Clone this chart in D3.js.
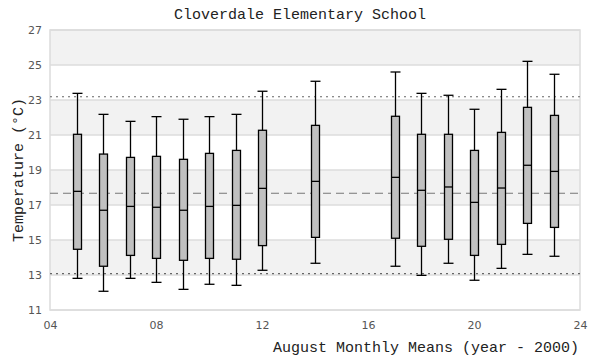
<!DOCTYPE html>
<html>
<head>
<meta charset="utf-8">
<script src="https://cdn.jsdelivr.net/npm/d3@7"></script>
<style>
  body { margin: 0; background: #fff; }
  svg { display: block; }
</style>
</head>
<body>
<svg id="chart" width="600" height="360"></svg>
<script>
// August monthly means, year - 2000
var years   = [5, 6, 7, 8, 9, 10, 11, 12, 14, 17, 18, 19, 20, 21, 22, 23];
var whiskLo = [12.81, 12.07, 12.81, 12.58, 12.18, 12.47, 12.41, 13.27, 13.67, 13.5, 12.98, 13.67, 12.7, 13.38, 14.18, 14.07];
var q1      = [14.47, 13.5, 14.12, 13.95, 13.84, 13.95, 13.9, 14.68, 15.15, 15.1, 14.64, 15.04, 14.12, 14.75, 15.95, 15.72];
var medians = [17.78, 16.7, 16.92, 16.87, 16.7, 16.92, 16.98, 17.95, 18.35, 18.58, 17.84, 18.03, 17.15, 17.97, 19.27, 18.92];
var q3      = [21.04, 19.91, 19.72, 19.78, 19.61, 19.95, 20.12, 21.27, 21.55, 22.07, 21.04, 21.04, 20.12, 21.15, 22.58, 22.12];
var whiskHi = [23.38, 22.18, 21.78, 22.05, 21.9, 22.05, 22.18, 23.5, 24.07, 24.6, 23.38, 23.27, 22.47, 23.61, 25.21, 24.47];

// reference lines: overall mean and the two dotted limits
var meanLine = 17.67;
var limitLines = [13.08, 23.19];

var xTicks = [4, 8, 12, 16, 20, 24];
var yTicks = [11, 13, 15, 17, 19, 21, 23, 25, 27];

var svg = d3.select("#chart");
var plotL = 50, plotR = 580, plotT = 30, plotB = 310;

var x = d3.scaleLinear().domain([4, 24]).range([plotL, plotR]);
var y = d3.scaleLinear().domain([11, 27]).range([plotB, plotT]);

// alternating bands, gray on the odd stripes
var bands = d3.pairs(yTicks).filter(function(d, i) { return i % 2 == 1; });
svg.append("g").selectAll("rect").data(bands).join("rect")
    .attr("x", plotL).attr("width", plotR - plotL)
    .attr("y", function(d) { return y(d[1]); })
    .attr("height", function(d) { return y(d[0]) - y(d[1]); })
    .attr("fill", "#f2f2f2");

// grid lines
svg.append("g").selectAll("line").data(yTicks).join("line")
    .attr("x1", plotL).attr("x2", plotR)
    .attr("y1", function(d) { return y(d); })
    .attr("y2", function(d) { return y(d); })
    .attr("stroke", "#dcdcdc").attr("stroke-width", 1.5);

svg.append("rect")
    .attr("x", plotL).attr("y", plotT)
    .attr("width", plotR - plotL).attr("height", plotB - plotT)
    .attr("fill", "none").attr("stroke", "#dcdcdc").attr("stroke-width", 1.5);

// axes (labels only)
var yAxis = svg.append("g").attr("transform", "translate(" + (plotL - 8) + ",0)")
    .call(d3.axisLeft(y).tickValues(yTicks).tickSize(0).tickPadding(0));
var xAxis = svg.append("g").attr("transform", "translate(0," + (plotB + 8) + ")")
    .call(d3.axisBottom(x).tickValues(xTicks).tickSize(0).tickPadding(3)
        .tickFormat(function(d) { return d3.format("02d")(d); }));
[yAxis, xAxis].forEach(function(a) {
    a.select(".domain").remove();
    a.selectAll("text").attr("fill", "#555").attr("font-size", 11)
        .attr("font-family", "DejaVu Sans, sans-serif");
});

// reference lines
svg.append("g").selectAll("line").data(limitLines).join("line")
    .attr("x1", plotL).attr("x2", plotR)
    .attr("y1", function(d) { return y(d); }).attr("y2", function(d) { return y(d); })
    .attr("stroke", "#666").attr("stroke-width", 1.1).attr("stroke-dasharray", "2,4");
svg.append("line")
    .attr("x1", plotL).attr("x2", plotR)
    .attr("y1", y(meanLine)).attr("y2", y(meanLine))
    .attr("stroke", "#777").attr("stroke-width", 1.1).attr("stroke-dasharray", "8,5");

// boxes
var rows = years.map(function(yr, i) {
    return {yr: yr, lo: whiskLo[i], q1: q1[i], med: medians[i], q3: q3[i], hi: whiskHi[i]};
});
var boxW = 8, capW = 8, sw = 1.3;
var g = svg.append("g").selectAll("g").data(rows).join("g")
    .attr("transform", function(d) { return "translate(" + (Math.round(x(d.yr)) + 0.5) + ",0)"; });

g.append("line")
    .attr("x1", 0).attr("x2", 0)
    .attr("y1", function(d) { return y(d.hi); }).attr("y2", function(d) { return y(d.lo); })
    .attr("stroke", "#000").attr("stroke-width", sw);
g.selectAll(".cap").data(function(d) { return [d.lo, d.hi]; }).join("line")
    .attr("class", "cap")
    .attr("x1", -capW / 2 - 1).attr("x2", capW / 2 + 1)
    .attr("y1", function(v) { return y(v); }).attr("y2", function(v) { return y(v); })
    .attr("stroke", "#000").attr("stroke-width", sw);
g.append("rect")
    .attr("x", -boxW / 2).attr("width", boxW)
    .attr("y", function(d) { return y(d.q3); })
    .attr("height", function(d) { return y(d.q1) - y(d.q3); })
    .attr("fill", "#c0c0c0").attr("stroke", "#000").attr("stroke-width", sw);
g.append("line")
    .attr("x1", -boxW / 2).attr("x2", boxW / 2)
    .attr("y1", function(d) { return y(d.med); }).attr("y2", function(d) { return y(d.med); })
    .attr("stroke", "#000").attr("stroke-width", sw);

// titles
var mono = "Liberation Mono, DejaVu Sans Mono, monospace";
svg.append("text").attr("x", 300).attr("y", 19).attr("text-anchor", "middle")
    .attr("font-family", mono).attr("font-size", 15).attr("fill", "#222")
    .text("Cloverdale Elementary School");
svg.append("text").attr("x", 579).attr("y", 352).attr("text-anchor", "end")
    .attr("font-family", mono).attr("font-size", 15).attr("fill", "#222")
    .text("August Monthly Means (year - 2000)");
svg.append("text").attr("transform", "translate(23,170) rotate(-90)")
    .attr("text-anchor", "middle")
    .attr("font-family", mono).attr("font-size", 15).attr("fill", "#222")
    .text("Temperature (°C)");
</script>
</body>
</html>
